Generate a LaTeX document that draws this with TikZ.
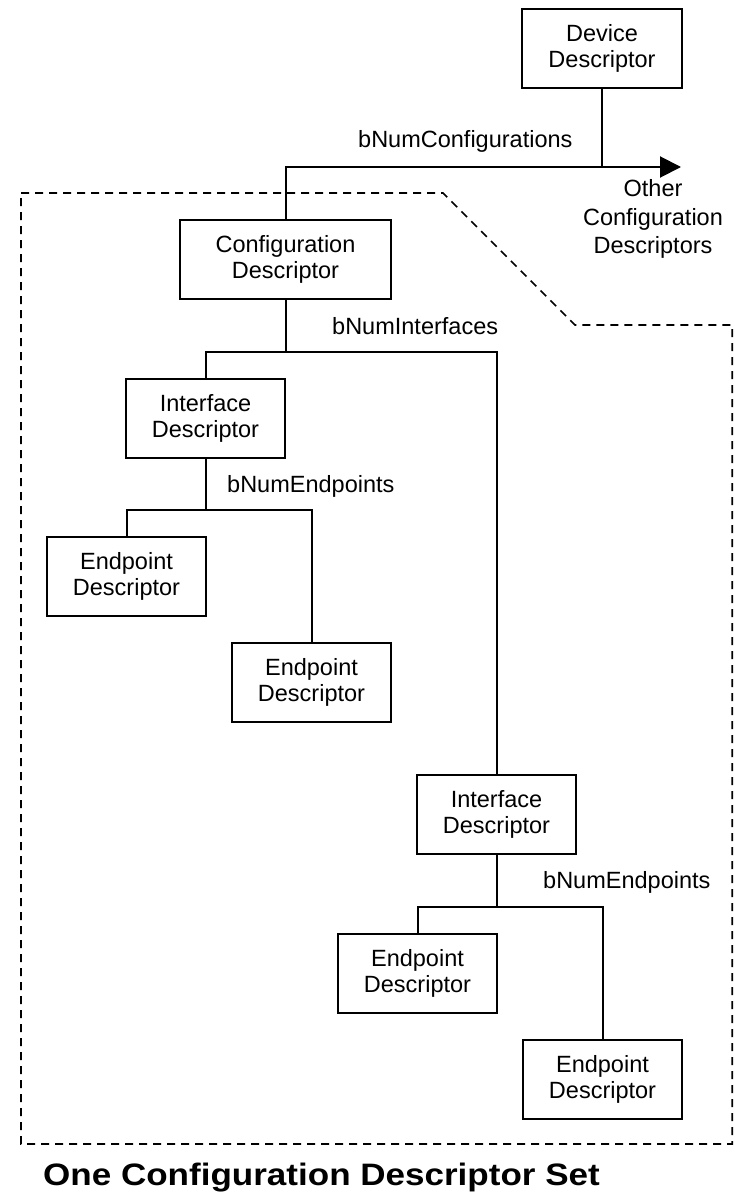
\documentclass[tikz,border=0pt]{standalone}
\usepackage{fontspec}
\setmainfont{Liberation Sans}
\usetikzlibrary{arrows.meta}
\tikzset{
  desc/.style={draw, line width=2pt, minimum height=79pt, align=center,
    inner sep=0pt, font=\fontsize{23.5}{26}\selectfont},
  lbl/.style={inner sep=0pt, font=\fontsize{23.5}{26}\selectfont},
  conn/.style={line width=2pt},
  border/.style={line width=1.7pt, dash pattern=on 8pt off 6pt},
}
\begin{document}
\begin{tikzpicture}[x=1pt,y=-1pt]
\useasboundingbox (0,0) rectangle (734,1193);
% boxes
\node[desc, minimum width=160pt] (dev) at (602,48.5) {Device\\Descriptor};
\node[desc, minimum width=211pt] (cfg) at (285.5,259.5) {Configuration\\Descriptor};
\node[desc, minimum width=159pt] (if1) at (205.5,418.5) {Interface\\Descriptor};
\node[desc, minimum width=159pt] (ep1) at (126.5,576.5) {Endpoint\\Descriptor};
\node[desc, minimum width=159pt] (ep2) at (311.5,682.5) {Endpoint\\Descriptor};
\node[desc, minimum width=159pt] (if2) at (496.5,814.5) {Interface\\Descriptor};
\node[desc, minimum width=159pt] (ep3) at (417.5,973) {Endpoint\\Descriptor};
\node[desc, minimum width=159pt] (ep4) at (602.5,1079) {Endpoint\\Descriptor};
% junctions
\coordinate (oend) at (681,167);
\coordinate (bj1) at (285.5,352);
\coordinate (bj2) at (205.5,510);
\coordinate (bj3) at (496.5,907);
% connectors
\draw[conn, -{Triangle[length=21pt,width=21pt]}] (cfg.north) |- (oend);
\draw[conn] (dev.south) -- (dev.south |- oend);
\draw[conn] (cfg.south) -- (bj1);
\draw[conn] (if1.north) |- (bj1) -| (if2.north);
\draw[conn] (if1.south) -- (bj2);
\draw[conn] (ep1.north) |- (bj2) -| (ep2.north);
\draw[conn] (if2.south) -- (bj3);
\draw[conn] (ep3.north) |- (bj3) -| (ep4.north);
% labels
\node[lbl, anchor=base west] (lcfg) at (358,148) {bNumConfigurations};
\node[lbl, anchor=base west] (lif) at (332,334) {bNumInterfaces};
\node[lbl, anchor=base west] (lep1) at (227,492) {bNumEndpoints};
\node[lbl, anchor=base west] (lep2) at (543,888) {bNumEndpoints};
\node[lbl, align=center, font=\fontsize{23.5}{28.5}\selectfont] (other) at (653,219) {Other\\Configuration\\Descriptors};
% dashed set boundary
\draw[border] (21,193) -- (443,193) -- (575,325) -- (732.2,325) -- (732.2,1144) -- (21,1144) -- cycle;
% title
\node[inner sep=0pt, anchor=base west, font=\fontsize{31}{34}\selectfont\bfseries] (title) at (43,1185) {\scalebox{1.13}[1]{One Configuration Descriptor Set}};
\end{tikzpicture}
\end{document}
